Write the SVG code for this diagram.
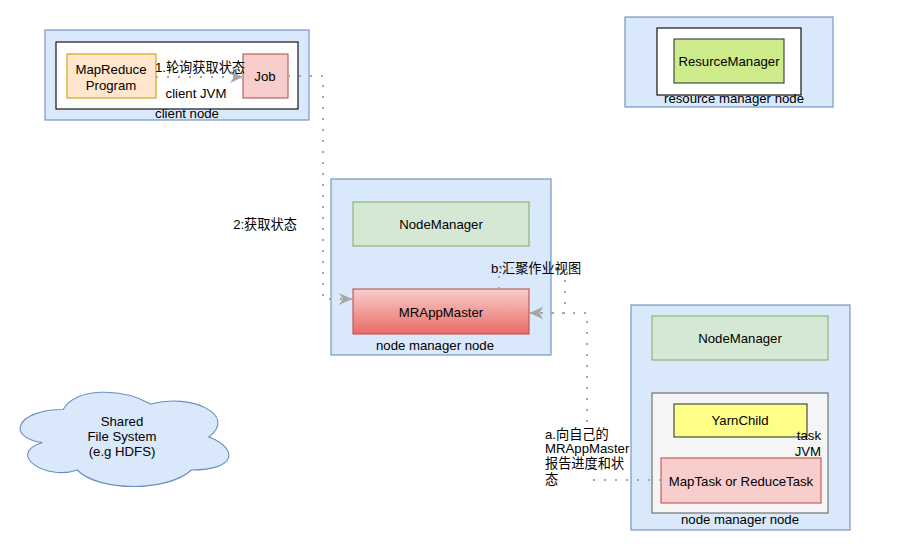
<svg xmlns="http://www.w3.org/2000/svg" width="920" height="556" viewBox="0 0 920 556">
<style>
text{font-family:"Liberation Sans","Noto Sans CJK SC",Arial,sans-serif;font-size:13.2px;fill:#000}
.c{text-anchor:middle}
.r{text-anchor:end}
.node{fill:#dae8fc;stroke:#6c8ebf;stroke-width:1.1}
.jvm{fill:#fff;stroke:#000;stroke-width:1.1}
.nm{fill:#d5e8d4;stroke:#82b366;stroke-width:1.1}
.red{fill:#f8cecc;stroke:#b85450;stroke-width:1.1}
.edge{fill:none;stroke:#a6a6a6;stroke-width:2;stroke-dasharray:2 9}
</style>
<defs>
<linearGradient id="g" x1="0" y1="0" x2="0" y2="1">
<stop offset="0" stop-color="#f8cecc"/>
<stop offset="1" stop-color="#ea6b66"/>
</linearGradient>
<marker id="arr" viewBox="0 0 14 14" refX="13" refY="7" markerWidth="14" markerHeight="14" markerUnits="userSpaceOnUse" orient="auto">
<path d="M0,1 L13,7 L0,13 L4,7 Z" fill="#a6a6a6"/>
</marker>
</defs>
<rect width="920" height="556" fill="#fff"/>

<g id="client-node">
<rect class="node" x="45" y="30" width="264" height="90"/>
<rect class="jvm" x="56" y="42" width="242" height="67"/>
<text class="c" x="196" y="98">client JVM</text>
<text class="c" x="187" y="118">client node</text>
</g>
<g id="mapreduce-program">
<rect x="67" y="54" width="89" height="44" fill="#ffe6cc" stroke="#d79b00" stroke-width="1.1"/>
<text class="c" x="111" y="74">MapReduce</text>
<text class="c" x="111" y="90">Program</text>
</g>
<g id="job">
<rect class="red" x="243" y="54" width="45" height="44"/>
<text class="c" x="265" y="81">Job</text>
</g>

<g id="resource-manager-node">
<rect class="node" x="625" y="17" width="208" height="90"/>
<rect class="jvm" x="657" y="28" width="144" height="67"/>
<text class="c" x="734" y="103">resource manager node</text>
</g>
<g id="resurce-manager">
<rect x="674" y="39" width="110" height="44" fill="#cdeb8b" stroke="#36393d" stroke-width="1.1"/>
<text class="c" x="729" y="66">ResurceManager</text>
</g>

<g id="node-manager-node-1">
<rect class="node" x="331" y="179" width="220" height="176"/>
<text class="c" x="435" y="350">node manager node</text>
</g>
<g id="node-manager-1">
<rect class="nm" x="353" y="202" width="176" height="44"/>
<text class="c" x="441" y="229">NodeManager</text>
</g>
<g id="mrappmaster">
<rect x="353" y="289" width="176" height="45" fill="url(#g)" stroke="#b85450" stroke-width="1.1"/>
<text class="c" x="441" y="317">MRAppMaster</text>
</g>

<g id="node-manager-node-2">
<rect class="node" x="631" y="305" width="219" height="225"/>
<text class="c" x="740" y="524">node manager node</text>
</g>
<g id="node-manager-2">
<rect class="nm" x="652" y="316" width="176" height="44"/>
<text class="c" x="740" y="343">NodeManager</text>
</g>
<g id="task-jvm">
<rect x="652" y="393" width="176" height="120" fill="#f5f5f5" stroke="#666" stroke-width="1.1"/>
</g>
<g id="yarnchild">
<rect x="674" y="404" width="133" height="33" fill="#ffff88" stroke="#36393d" stroke-width="1.1"/>
<text class="c" x="740" y="425">YarnChild</text>
</g>
<g id="task-jvm-label">
<text class="r" x="821" y="440">task</text>
<text class="r" x="821" y="456">JVM</text>
</g>
<g id="maptask">
<rect class="red" x="661" y="458" width="160" height="45"/>
<text class="c" x="741" y="486">MapTask or ReduceTask</text>
</g>

<g id="shared-fs">
<path d="M63.25,409.5 C16.65,409.5 5,437 42.28,442.5 C5,454.6 46.94,481 77.23,470 C98.2,492 168.1,492 191.4,470 C238,470 238,448 208.88,437 C238,415 191.4,393 150.63,404 C121.5,387.5 74.9,387.5 63.25,409.5 Z" fill="#dae8fc" stroke="#6c8ebf" stroke-width="1.1"/>
<text class="c" x="122" y="426">Shared</text>
<text class="c" x="122" y="441">File System</text>
<text class="c" x="122" y="456">(e.g HDFS)</text>
</g>

<g id="connectors">
<path class="edge" d="M156,77 H243" marker-end="url(#arr)"/>
<path class="edge" d="M288,76 H323 V299 H352" marker-end="url(#arr)"/>
<path class="edge" d="M499,289 V268 H565 V313 H530" marker-end="url(#arr)"/>
<path class="edge" d="M661,480 H587 V313 H530" marker-end="url(#arr)"/>
</g>

<g id="edge-labels">
<text class="c" x="200" y="72">1.轮询获取状态</text>
<text class="c" x="265" y="229">2:获取状态</text>
<text x="491" y="273">b:汇聚作业视图</text>
<rect x="540" y="424" width="50" height="64" fill="#fff"/>
<text x="545" y="439">a.向自己的</text>
<text x="545" y="453">MRAppMaster</text>
<text x="545" y="468">报告进度和状</text>
<text x="545" y="484">态</text>
</g>
</svg>
